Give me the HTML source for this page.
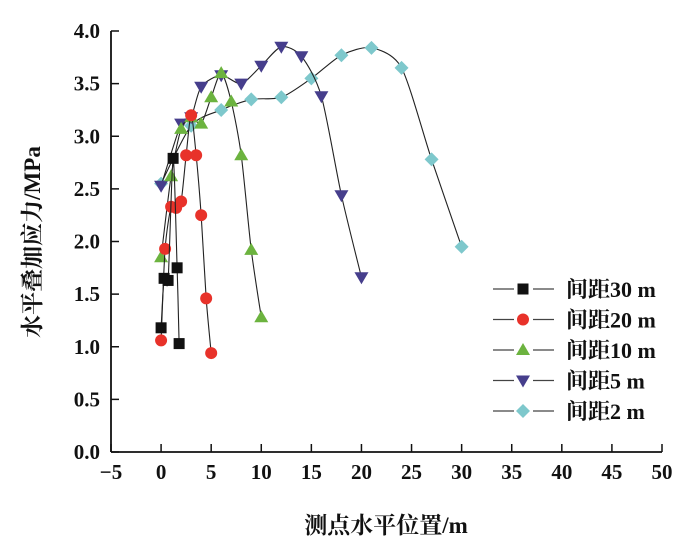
<!DOCTYPE html>
<html><head><meta charset="utf-8">
<style>
html,body{margin:0;padding:0;background:#fff;}
svg{display:block;}
text{font-family:"Liberation Serif","Noto Serif CJK SC",serif;fill:#111;}
</style></head>
<body>
<svg width="700" height="556" viewBox="0 0 700 556">
<g id="axes"></g>
<g id="series"></g>
<g id="legend"></g>
<text x="0" y="0" font-size="23" font-weight="bold" text-anchor="middle" transform="translate(40,242) rotate(-90)">水平叠加应力/MPa</text>
<text x="386" y="533" font-size="23" font-weight="bold" text-anchor="middle">测点水平位置/m</text>
</svg>
<script>
const xTicks = [-5,0,5,10,15,20,25,30,35,40,45,50];
const yTicks = [0.0,0.5,1.0,1.5,2.0,2.5,3.0,3.5,4.0];
const seriesNames = ["间距30 m","间距20 m","间距10 m","间距5 m","间距2 m"];
const s30x = [0,0.3,0.7,1.2,1.6,1.8];
const s30y = [1.18,1.65,1.63,2.79,1.75,1.03];
const s20x = [0,0.4,1.0,1.5,2.0,2.5,3.0,3.5,4.0,4.5,5.0];
const s20y = [1.06,1.93,2.33,2.32,2.38,2.82,3.2,2.82,2.25,1.46,0.94];
const s10x = [0,1,2,3,4,5,6,7,8,9,10];
const s10y = [1.85,2.62,3.07,3.18,3.12,3.37,3.6,3.33,2.82,1.92,1.28];
const s5x = [0,2,3,4,6,8,10,12,14,16,18,20];
const s5y = [2.53,3.12,3.18,3.47,3.58,3.5,3.67,3.85,3.76,3.38,2.44,1.66];
const s2x = [0,3,6,9,12,15,18,21,24,27,30];
const s2y = [2.55,3.1,3.25,3.35,3.37,3.55,3.77,3.84,3.65,2.78,1.95];

const NS="http://www.w3.org/2000/svg";
const X0=111,X1=662,Y0=452,Y1=31;
const sx=v=>X0+(v+5)/55*(X1-X0);
const sy=v=>Y0-v/4*(Y0-Y1);
function mk(tag,attrs,parent){const e=document.createElementNS(NS,tag);for(const k in attrs)e.setAttribute(k,attrs[k]);parent.appendChild(e);return e;}
const axes=document.getElementById('axes');
let l=mk('line',{x1:X0,y1:Y1,x2:X0,y2:Y0,stroke:'#111','stroke-width':1.8},axes);


l=mk('line',{x1:X0,y1:Y0,x2:X1,y2:Y0,stroke:'#111','stroke-width':1.8},axes);


yTicks.forEach(v=>{
  mk('line',{x1:X0,y1:sy(v),x2:X0+8,y2:sy(v),stroke:'#111','stroke-width':1.5},axes);
  const t=mk('text',{x:X0-11,y:sy(v)+7,'font-size':21,'font-weight':'bold','text-anchor':'end'},axes);
  t.textContent=v.toFixed(1);
  
  
});
xTicks.forEach(v=>{
  mk('line',{x1:sx(v),y1:Y0,x2:sx(v),y2:Y0-8,stroke:'#111','stroke-width':1.5},axes);
  const t=mk('text',{x:sx(v),y:Y0+27,'font-size':21,'font-weight':'bold','text-anchor':'middle'},axes);
  t.textContent=v<0?'\u2212'+Math.abs(v):String(v);
  
  
});
function smooth(xs,ys){
  const p=xs.map((x,i)=>[sx(x),sy(ys[i])]);
  let d='M'+p[0][0]+','+p[0][1];
  for(let i=0;i<p.length-1;i++){
    const a=p[Math.max(0,i-1)],b=p[i],c=p[i+1],e=p[Math.min(p.length-1,i+2)];
    const t=0.13;
    d+=' C'+(b[0]+(c[0]-a[0])*t)+','+(b[1]+(c[1]-a[1])*t)+' '+(c[0]-(e[0]-b[0])*t)+','+(c[1]-(e[1]-b[1])*t)+' '+c[0]+','+c[1];
  }
  return d;
}
function marker(type,x,y,parent){
  let e;
  if(type==0) e=mk('rect',{x:x-5.5,y:y-5.5,width:11,height:11,fill:'#111'},parent);
  else if(type==1) e=mk('circle',{cx:x,cy:y,r:6,fill:'#e8322a'},parent);
  else if(type==2) e=mk('polygon',{points:`${x},${y-7} ${x+7},${y+5} ${x-7},${y+5}`,fill:'#6cb33f'},parent);
  else if(type==3) e=mk('polygon',{points:`${x-7},${y-5} ${x+7},${y-5} ${x},${y+7}`,fill:'#463e8c'},parent);
  else e=mk('polygon',{points:`${x},${y-7} ${x+7},${y} ${x},${y+7} ${x-7},${y}`,fill:'#7ec8cc'},parent);
  return e;
}
const allX=[s30x,s20x,s10x,s5x,s2x], allY=[s30y,s20y,s10y,s5y,s2y];
const ser=document.getElementById('series');
const order=[4,3,2,1,0];
order.forEach(k=>{
  const g=mk('g',{},ser);
  
  
  const p=mk('path',{d:smooth(allX[k],allY[k]),fill:'none',stroke:'#222','stroke-width':1.1},g);
  
  
  allX[k].forEach((x,i)=>{
    const m=marker(k,sx(x),sy(allY[k][i]),g);
    
    
  });
});
const leg=document.getElementById('legend');
seriesNames.forEach((n,i)=>{
  const y=289+i*30.5;
  const g=mk('g',{},leg);
  
  
  mk('line',{x1:493,y1:y,x2:514,y2:y,stroke:'#444','stroke-width':1.2},g);
  mk('line',{x1:533,y1:y,x2:554,y2:y,stroke:'#444','stroke-width':1.2},g);
  marker(i,523,y,g);
  const t=mk('text',{x:566,y:y+8,'font-size':22,'font-weight':'bold'},g);
  t.textContent=n;
});
</script>
</body></html>
